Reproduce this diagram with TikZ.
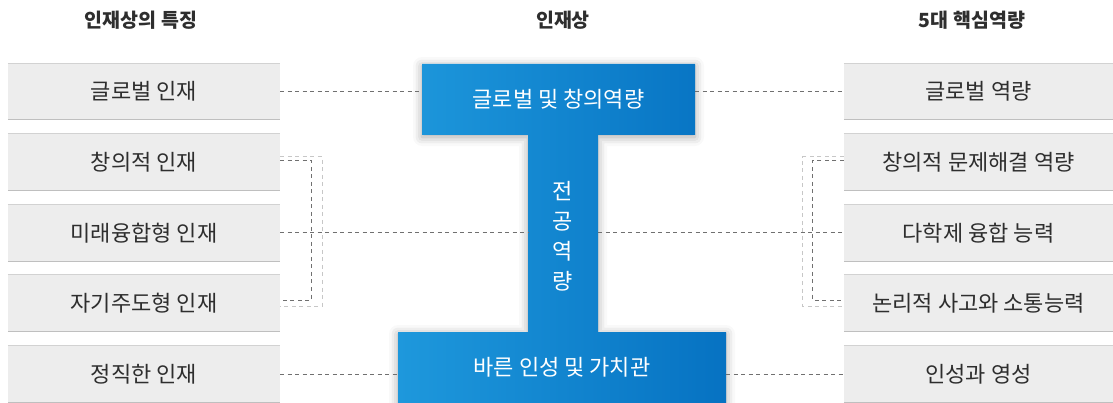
\documentclass[tikz,border=0pt]{standalone}
\usepackage{fontspec}
\setmainfont{Noto Sans CJK KR}
\usepackage{tikz}
\usetikzlibrary{%
  shadows,%
  shadows.blur,% wg. soft shadow
  positioning,%
  calc%
}
\definecolor{boxgray}{HTML}{EDEDED}
\definecolor{boxline}{HTML}{D2D2D2}
\definecolor{txtgray}{HTML}{2E2E2E}
\definecolor{dashgray}{HTML}{707070}
\definecolor{bluelt}{HTML}{1E98DC}
\definecolor{bluedk}{HTML}{0672C2}

\begin{document}
\begin{tikzpicture}[
  x=1pt, y=-1pt,
  title/.style={font=\fontsize{19.5}{22}\selectfont\bfseries, text=txtgray},
  itembox/.style={fill=boxgray, minimum height=56pt, inner sep=0pt,
    font=\fontsize{22}{24}\selectfont, text=txtgray},
  bluetext/.style={text=white, inner sep=0pt, font=\fontsize{22}{24}\selectfont},
  link/.style={draw=dashgray, line width=1pt, dash pattern=on 4pt off 3.5pt},
  linklt/.style={draw=black!22, line width=1pt, dash pattern=on 4pt off 3.5pt}
]
\useasboundingbox (0,0) rectangle (1113,403);

% titles
\node[title] (t1) at (141,20) {인재상의 특징};
\node[title] (t2) at (563,20) {인재상};
\node[title] (t3) at (972,20) {5대 핵심역량};

% left column
\node[itembox, minimum width=272pt] (l1) at (144,91.5) {글로벌 인재};
\node[itembox, minimum width=272pt] (l2) at (144,162) {창의적 인재};
\node[itembox, minimum width=272pt] (l3) at (144,233) {미래융합형 인재};
\node[itembox, minimum width=272pt] (l4) at (144,303) {자기주도형 인재};
\node[itembox, minimum width=272pt] (l5) at (144,374) {정직한 인재};

% right column
\node[itembox, minimum width=269pt] (r1) at (978.5,91.5) {글로벌 역량};
\node[itembox, minimum width=269pt] (r2) at (978.5,162) {창의적 문제해결 역량};
\node[itembox, minimum width=269pt] (r3) at (978.5,233) {다학제 융합 능력};
\node[itembox, minimum width=269pt] (r4) at (978.5,303) {논리적 사고와 소통능력};
\node[itembox, minimum width=269pt] (r5) at (978.5,374) {인성과 영성};

\foreach \b in {l1,l2,l3,l4,l5,r1,r2,r3,r4,r5} {
  \draw[boxline, line width=1pt] (\b.north west) -- (\b.north east);
  \draw[black!25, line width=1.2pt] (\b.south west) -- (\b.south east);
}

% the I shape
\path[left color=bluelt, right color=bluedk,
  blur shadow={shadow xshift=0pt, shadow yshift=-2pt,
    shadow blur radius=9pt, shadow opacity=35}]
  (422,64) -- (695,64) -- (695,135) -- (598,135) -- (598,332)
  -- (726,332) -- (726,403) -- (398,403) -- (398,332) -- (528,332)
  -- (528,135) -- (422,135) -- cycle;

\node[bluetext, minimum width=273pt, minimum height=71pt] (top) at (558.5,99.5) {글로벌 및 창의역량};
\node[bluetext, minimum width=70pt, minimum height=197pt, align=center,
  font=\fontsize{22}{30}\selectfont] (stem) at (563,236) {전\\공\\역\\량};
\node[bluetext, minimum width=328pt, minimum height=71pt] (bot) at (562,367.5) {바른 인성 및 가치관};

% straight links
\draw[link] (l1.east) -- (top.west |- l1.east);
\draw[link] (top.east |- r1.west) -- (r1.west);
\draw[link] (l3.east) -- (stem.west |- l3.east);
\draw[link] (stem.east |- r3.west) -- (r3.west);
\draw[link] (l5.east) -- (bot.west |- l5.east);
\draw[link] (bot.east |- r5.west) -- (r5.west);

% brackets
\draw[linklt] ([yshift=5pt]l2.east) -- ++(42,0) |- ([yshift=-3pt]l4.east);
\draw[link] ([yshift=1.5pt]l2.east) -- ++(31,0) |- ([yshift=3pt]l4.east);
\draw[linklt] ([yshift=5pt]r2.west) -- ++(-41,0) |- ([yshift=-3pt]r4.west);
\draw[link] ([yshift=1.5pt]r2.west) -- ++(-31,0) |- ([yshift=3pt]r4.west);

\end{tikzpicture}
\end{document}
